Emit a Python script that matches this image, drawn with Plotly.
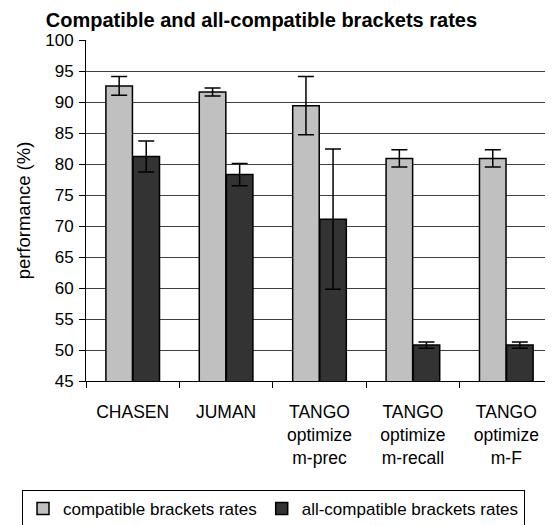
import plotly.graph_objects as go

categories = ["CHASEN", "JUMAN", "TANGO<br>optimize<br>m-prec", "TANGO<br>optimize<br>m-recall", "TANGO<br>optimize<br>m-F"]
compatible = [92.6, 91.6, 89.4, 80.9, 80.9]
compatible_err = [1.5, 0.65, 4.7, 1.4, 1.4]
all_compatible = [81.2, 78.3, 71.1, 50.8, 50.8]
all_compatible_err = [2.5, 1.8, 11.3, 0.5, 0.5]
y_ticks = [45, 50, 55, 60, 65, 70, 75, 80, 85, 90, 95, 100]

REG = "Liberation Sans, Arial, sans-serif"

fig = go.Figure()
fig.add_trace(go.Bar(
    x=categories, y=compatible, name="compatible brackets rates",
    marker=dict(color="#c0c0c0", line=dict(color="black", width=1.5)),
    error_y=dict(type="data", array=compatible_err, visible=True, color="black", thickness=1.5, width=8),
))
fig.add_trace(go.Bar(
    x=categories, y=all_compatible, name="all-compatible brackets rates",
    marker=dict(color="#333333", line=dict(color="black", width=1.5)),
    error_y=dict(type="data", array=all_compatible_err, visible=True, color="black", thickness=1.5, width=8),
))

fig.update_layout(
    width=545, height=517,
    margin=dict(l=78, r=0, t=32, b=144, autoexpand=False),
    paper_bgcolor="white", plot_bgcolor="white",
    barmode="group", bargap=0.42, bargroupgap=0.02,
    title=dict(text="<b>Compatible and all-compatible brackets rates</b>",
               font=dict(family=REG, size=20, color="black"),
               x=0.465, xanchor="center", xref="container",
               y=0.990, yanchor="top", yref="container"),
    font=dict(family=REG, size=17, color="black"),
    showlegend=True,
    legend=dict(orientation="h", x=(14 - 78) / 467, xanchor="left", y=(373 - 482) / 341, yanchor="top",
                bordercolor="black", borderwidth=1, font=dict(family=REG, size=17),
                itemwidth=30, tracegroupgap=0),
)
fig.update_xaxes(
    type="category", range=[-0.5, 4.5], automargin=False,
    showline=True, linecolor="black", linewidth=1,
    ticks="outside", tickson="boundaries", ticklen=6, tickcolor="black",
    showgrid=False, ticklabelstandoff=15,
    tickfont=dict(family=REG, size=17.5),
)
fig.update_yaxes(
    range=[45, 100], tickvals=y_ticks, automargin=False,
    showline=True, linecolor="black", linewidth=1,
    ticks="outside", ticklen=6, tickcolor="black",
    showgrid=True, gridcolor="#404040", gridwidth=1,
    zeroline=False, ticklabelstandoff=2,
    tickfont=dict(family=REG, size=17),
    title=dict(text="performance (%)", font=dict(family=REG, size=18.5), standoff=9),
)

fig.write_html("out.html")
